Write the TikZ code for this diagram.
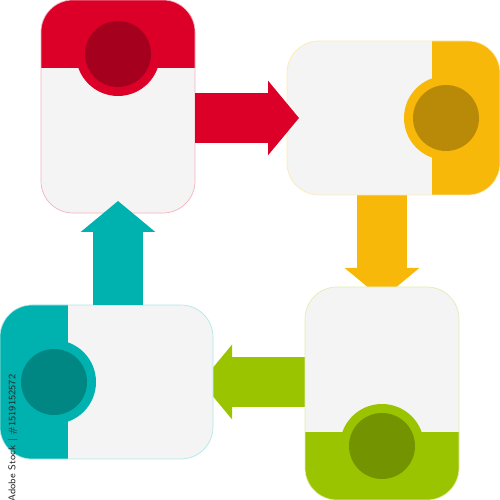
\documentclass[tikz,border=0pt]{standalone}
\usetikzlibrary{arrows.meta,backgrounds,calc}

\definecolor{cardgray}{HTML}{F4F4F4}
\definecolor{stepred}{HTML}{DC0028}
\definecolor{stepyellow}{HTML}{F7B80A}
\definecolor{stepgreen}{HTML}{9BC400}
\definecolor{stepteal}{HTML}{00B2AF}

\tikzset{
  card/.style={rectangle, rounded corners=0.64cm, fill=cardgray,
    draw=#1!30, line width=0.4pt, inner sep=0pt, outer sep=0pt},
  tall/.style={minimum width=3.08cm, minimum height=4.26cm},
  wide/.style={minimum width=4.26cm, minimum height=3.08cm},
  % coloured band with the disc on one side (#1) of the card
  band/.style 2 args={path picture={
    \draw[#2, line width=2.72cm]
      ($(path picture bounding box.#1)!3cm!90:(path picture bounding box.center)$) --
      ($(path picture bounding box.#1)!3cm!-90:(path picture bounding box.center)$);
    \coordinate (disc) at ($(path picture bounding box.#1)!1.08cm!(path picture bounding box.center)$);
    \fill[#2] (disc) circle (0.84cm);
    \fill[#2!75!black] (disc) circle (0.66cm);}},
  flow/.style={line width=1cm, draw=#1,
    -{Triangle[width=1.46cm,length=0.62cm]}},
}

\begin{document}
\begin{tikzpicture}
	\useasboundingbox (0,0) rectangle (10,10);
	
	%----------------------------
	% Cards
	%----------------------------
	\node[card=stepred, tall, band={north}{stepred}] (red) at (2.36,7.87) {};
	\node[card=stepyellow, wide, band={east}{stepyellow}] (yellow) at (7.87,7.64) {};
	\node[card=stepgreen, tall, band={south}{stepgreen}] (green) at (7.64,2.13) {};
	\node[card=stepteal, wide, band={west}{stepteal}] (teal) at (2.13,2.36) {};
	
	%----------------------------
	% Arrows between the cards
	%----------------------------
	% red -> yellow (tip over the yellow card)
	\coordinate (redtip) at ([xshift=0.24cm]yellow.west);
	\draw[flow=stepred] (red.east |- yellow) -- (redtip);
	
	% teal -> red (tip over the red card)
	\coordinate (tealtip) at ([yshift=0.24cm]red.south);
	\draw[flow=stepteal] (teal.north -| red) -- (tealtip);
	
	% these two slide under the next card
	\begin{scope}[on background layer]
		% yellow -> green
		\coordinate (yellowtip) at ([yshift=-0.24cm]green.north);
		\draw[flow=stepyellow] (yellow.south -| green) -- (yellowtip);
		
		% green -> teal
		\coordinate (greentip) at ([xshift=-0.24cm]teal.east);
		\draw[flow=stepgreen] (green.west |- teal) -- (greentip);
	\end{scope}
	
	% stock number along the left edge
	\node[rotate=90, inner sep=0pt, text=black!85, font=\sffamily\fontsize{5.6}{6}\selectfont]
	(stamp) at (0.26,1.24) {Adobe Stock | \#1519152572};
	
\end{tikzpicture}
\end{document}
